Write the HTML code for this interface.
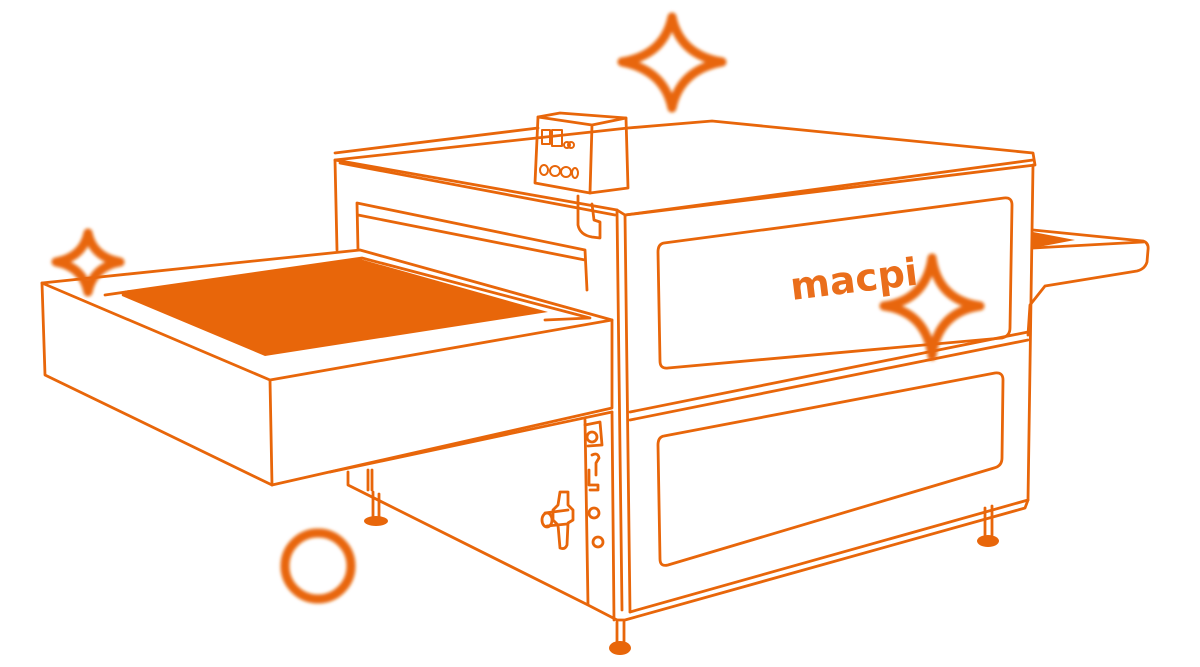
<!DOCTYPE html>
<html><head><meta charset="utf-8"><style>
html,body{margin:0;padding:0;background:#fff;width:1200px;height:667px;overflow:hidden}
svg{display:block}
</style></head><body>
<svg width="1200" height="667" viewBox="0 0 1200 667" xmlns="http://www.w3.org/2000/svg">
<defs><filter id="b" x="-30%" y="-30%" width="160%" height="160%"><feGaussianBlur stdDeviation="1.6"/></filter></defs>
<g fill="none" stroke="#e8660a" stroke-width="2.8" stroke-linejoin="round" stroke-linecap="round">
<!-- right tray -->
<path d="M1033 230 L1143 241 Q1149 243 1148 250 L1147 262 Q1145 269 1137 271 L1045 286 L1030 305 L1028 335"/>
<path d="M1033 248 L1143 242"/>
<!-- lid -->
<path d="M335 153 L538 128 M628 128 L712 121 L1033 153 L1035 165 L625 215 L617 210 L335 160 Z"/>
<path d="M340 163 L615 215"/>
<path d="M625 215 L1033 160"/>
<!-- control box -->
<path d="M538 117 L560 113 L626 118 L628 188 L590 193 L535 183 Z"/>
<path d="M592 125 L590 193 M538 117 L592 125 L626 118"/>
<rect x="542" y="130" width="8" height="14" stroke-width="2"/><rect x="552" y="130" width="10" height="16" stroke-width="2"/>
<circle cx="567" cy="145" r="3" stroke-width="2"/><circle cx="571" cy="145" r="3" stroke-width="2"/>
<ellipse cx="544" cy="170" rx="4" ry="5" stroke-width="2"/><ellipse cx="555" cy="171" rx="5" ry="5" stroke-width="2"/><ellipse cx="566" cy="172" rx="5" ry="5" stroke-width="2"/><ellipse cx="575" cy="173" rx="3" ry="5" stroke-width="2"/>
<path d="M578 196 L578 225 Q580 235 592 237 L600 238 L600 222 L594 220 L592 204"/>
<!-- body left -->
<path d="M335 160 L337 250"/>
<path d="M357 203 L585 250 L587 290 M358 215 L585 260 M357 203 L358 250"/>
<!-- body corner / right face -->
<path d="M617 210 L622 610 M625 215 L630 612"/>
<path d="M1033 165 L1028 500 L630 612"/>
<path d="M630 412 L1028 332 M630 420 L1028 340"/>
<path d="M1028 500 L1025 508 L625 620 L617 620"/>
<path d="M664 243 L1004 198 Q1012 197 1012 205 L1010 328 Q1010 336 1002 338 L668 368 Q660 369 660 361 L658 252 Q658 244 664 243 Z"/>
<path d="M664 436 L995 373 Q1003 372 1003 380 L1002 458 Q1002 466 994 468 L668 565 Q660 567 660 559 L658 445 Q658 437 664 436 Z"/>
<!-- lower left side -->
<path d="M330 472 L612 412"/>
<path d="M348 472 L348 485 L588 605 L617 620 M585 420 L588 605 M612 412 L614 620"/>
<path d="M368 470 L368 490 M372 470 L372 490"/>
<path d="M373 492 L373 518 M379 494 L379 518"/>
<path d="M617 622 L617 642 M624 622 L624 642"/>
<path d="M985 508 L985 535 M992 506 L992 535"/>
<!-- controls on side -->
<path d="M585 425 L600 422 L602 445 L588 446"/>
<circle cx="592" cy="437" r="5"/>
<path d="M592 455 Q598 452 599 458 L596 463 L596 475 M589 470 L589 485 L598 485 L598 490 L590 490"/>
<circle cx="594" cy="513" r="5"/><circle cx="598" cy="542" r="5"/>
<path d="M560 492 L568 492 L568 505 L573 510 L573 520 L568 523 L567 545 Q565 550 560 548 L558 525 L553 520 L553 510 L558 505 Z M545 513 L568 510 M547 526 L567 524"/>
<ellipse cx="547" cy="520" rx="5" ry="7"/>
<!-- left tray -->
<path d="M42 283 L360 250 L612 320 L612 408 L272 485 L270 380 Z"/>
<path d="M42 283 L45 375 L272 485 M270 380 L612 320"/>
<path d="M105 295 L362 258 L590 318 L545 320"/>
</g>
<path d="M1033 232 L1075 240 L1033 248 Z" fill="#e8660a"/>
<!-- orange plate -->
<path d="M122 296 Q120 290 132 290 L360 259 L548 312 L265 356 Z" fill="#e8660a"/>
<!-- feet -->
<g fill="#e8660a">
<ellipse cx="376" cy="521" rx="12" ry="5"/>
<ellipse cx="620" cy="648" rx="11" ry="7"/>
<ellipse cx="988" cy="541" rx="11" ry="6"/>
</g>
<!-- macpi -->
<text x="0" y="0" transform="translate(792 300) rotate(-7)" font-family="DejaVu Sans, sans-serif" font-weight="bold" font-size="38" fill="#ea6e1b">macpi</text>
<!-- sparkles -->
<g fill="none" stroke="#e8660a" stroke-width="9" stroke-linejoin="round" filter="url(#b)">
<path d="M672 17 Q680 55 722 62 Q680 70 672 108 Q664 70 622 62 Q664 55 672 17 Z"/>
<path d="M88 233 Q93 257 120 262 Q93 267 88 292 Q83 267 56 262 Q83 257 88 233 Z"/>
<path d="M932 258 Q938 300 980 306 Q938 312 932 356 Q926 312 884 306 Q926 300 932 258 Z"/>
<circle cx="318" cy="566" r="33"/>
</g>
</svg>
</body></html>
